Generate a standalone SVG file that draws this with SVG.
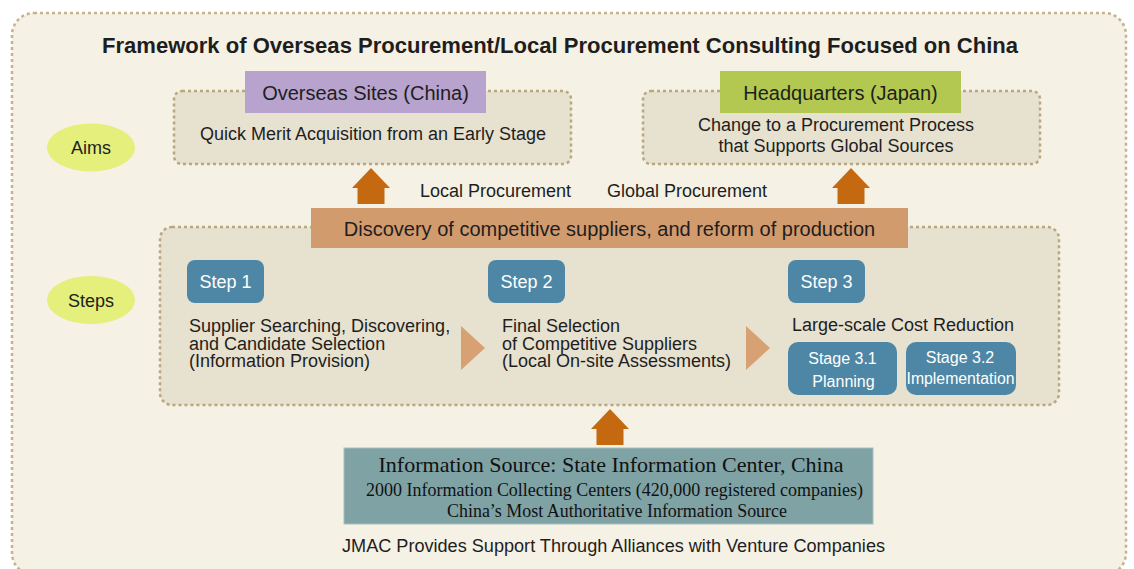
<svg xmlns="http://www.w3.org/2000/svg" width="1134" height="569" viewBox="0 0 1134 569">
<defs>
<style>
.sans{font-family:"Liberation Sans",Arial,sans-serif;fill:#1e1e1e}
.serif{font-family:"Liberation Serif","Times New Roman",serif;fill:#111}
.dot{fill:#e7e1cf;stroke:#b8a77f;stroke-width:2.5;stroke-dasharray:3 3}
.step{fill:#4e87a5}
.wt{font-family:"Liberation Sans",Arial,sans-serif;fill:#fff}
.arrow{fill:#c4690f}
.tri{fill:#d8a173}
.ell{fill:#e4ef7c}
</style>
</defs>
<rect x="0" y="0" width="1134" height="569" fill="#ffffff"/>
<rect x="12" y="13" width="1114" height="562" rx="22" fill="#f5f1e4" stroke="#c6b28c" stroke-width="2.5" stroke-dasharray="3 3"/>
<text class="sans" x="560" y="53" font-size="22" font-weight="bold" text-anchor="middle" textLength="916" lengthAdjust="spacingAndGlyphs">Framework of Overseas Procurement/Local Procurement Consulting Focused on China</text>

<g id="aims">
<ellipse class="ell" cx="91" cy="147.5" rx="44" ry="24"/>
<text class="sans" x="91" y="154" font-size="18" text-anchor="middle">Aims</text>
</g>
<g id="steps-label">
<ellipse class="ell" cx="91" cy="300" rx="44" ry="24"/>
<text class="sans" x="91" y="306.5" font-size="18" text-anchor="middle">Steps</text>
</g>

<g id="overseas">
<rect class="dot" x="174" y="91" width="397" height="73" rx="8"/>
<rect x="245" y="71" width="241" height="42" fill="#b7a3cd"/>
<text class="sans" x="365.5" y="100" font-size="20" text-anchor="middle">Overseas Sites (China)</text>
<text class="sans" x="373" y="139.5" font-size="18" text-anchor="middle">Quick Merit Acquisition from an Early Stage</text>
</g>

<g id="headquarters">
<rect class="dot" x="643" y="91" width="397" height="73" rx="8"/>
<rect x="720" y="71" width="241" height="42" fill="#b2c850"/>
<text class="sans" x="840.5" y="100" font-size="20" text-anchor="middle">Headquarters (Japan)</text>
<text class="sans" x="836" y="131" font-size="18" text-anchor="middle">Change to a Procurement Process</text>
<text class="sans" x="836" y="152" font-size="18" text-anchor="middle">that Supports Global Sources</text>
</g>

<g id="steps">
<rect class="dot" x="160" y="227" width="899" height="178" rx="12"/>
</g>

<g id="discovery">
<rect x="311" y="208" width="597" height="40" fill="#d29b6e"/>
<text class="sans" x="609.5" y="236" font-size="20" text-anchor="middle">Discovery of competitive suppliers, and reform of production</text>
</g>

<g id="step1">
<rect class="step" x="187" y="260" width="77" height="43" rx="8"/>
<text class="wt" x="225.5" y="288" font-size="18" text-anchor="middle">Step 1</text>
<text class="sans" font-size="18"><tspan x="189" y="332">Supplier Searching, Discovering,</tspan><tspan x="189" y="349.5">and Candidate Selection</tspan><tspan x="189" y="367">(Information Provision)</tspan></text>
</g>

<g id="step2">
<rect class="step" x="488" y="260" width="77" height="43" rx="8"/>
<text class="wt" x="526.5" y="288" font-size="18" text-anchor="middle">Step 2</text>
<text class="sans" font-size="18"><tspan x="502" y="332">Final Selection</tspan><tspan x="502" y="349.5">of Competitive Suppliers</tspan><tspan x="502" y="367">(Local On-site Assessments)</tspan></text>
</g>

<g id="step3">
<rect class="step" x="788" y="260" width="77" height="43" rx="8"/>
<text class="wt" x="826.5" y="288" font-size="18" text-anchor="middle">Step 3</text>
<text class="sans" x="792" y="331" font-size="18">Large-scale Cost Reduction</text>
</g>

<g id="stage31">
<rect class="step" x="788" y="342" width="109" height="53" rx="10"/>
<text class="wt" x="842.5" y="364" font-size="16" text-anchor="middle">Stage 3.1</text>
<text class="wt" x="843.5" y="387" font-size="16" text-anchor="middle">Planning</text>
</g>

<g id="stage32">
<rect class="step" x="906" y="342" width="110" height="53" rx="10"/>
<text class="wt" x="960" y="363" font-size="16" text-anchor="middle">Stage 3.2</text>
<text class="wt" x="960.5" y="384" font-size="16" text-anchor="middle" textLength="108" lengthAdjust="spacingAndGlyphs">Implementation</text>
</g>

<g id="info-source">
<rect x="344" y="448" width="529" height="76" fill="#7fa2a5" stroke="#a9c0c0" stroke-width="1"/>
<text class="serif" x="611" y="472" font-size="22" text-anchor="middle" textLength="465" lengthAdjust="spacingAndGlyphs">Information Source: State Information Center, China</text>
<text class="serif" x="614.5" y="496" font-size="18" text-anchor="middle" textLength="497" lengthAdjust="spacingAndGlyphs">2000 Information Collecting Centers (420,000 registered companies)</text>
<text class="serif" x="617" y="517" font-size="18" text-anchor="middle" textLength="340" lengthAdjust="spacingAndGlyphs">China’s Most Authoritative Information Source</text>
</g>

<g id="jmac">
<text class="sans" x="613.5" y="552" font-size="18" text-anchor="middle" textLength="543" lengthAdjust="spacingAndGlyphs">JMAC Provides Support Through Alliances with Venture Companies</text>
</g>

<g id="connectors">
<path class="arrow" d="M371,168 L390,188 L384.5,188 L384.5,204 L357.5,204 L357.5,188 L352,188 Z"/>
<path class="arrow" d="M851,168 L870,188 L864.5,188 L864.5,204 L837.5,204 L837.5,188 L832,188 Z"/>
<path class="arrow" d="M610,409 L629,429 L623.5,429 L623.5,445 L596.5,445 L596.5,429 L591,429 Z"/>
<path class="tri" d="M461,326 L485,348 L461,370 Z"/>
<path class="tri" d="M746,326 L770,348 L746,370 Z"/>
<text class="sans" x="420" y="197" font-size="18">Local Procurement</text>
<text class="sans" x="607" y="197" font-size="18">Global Procurement</text>
</g>
</svg>
